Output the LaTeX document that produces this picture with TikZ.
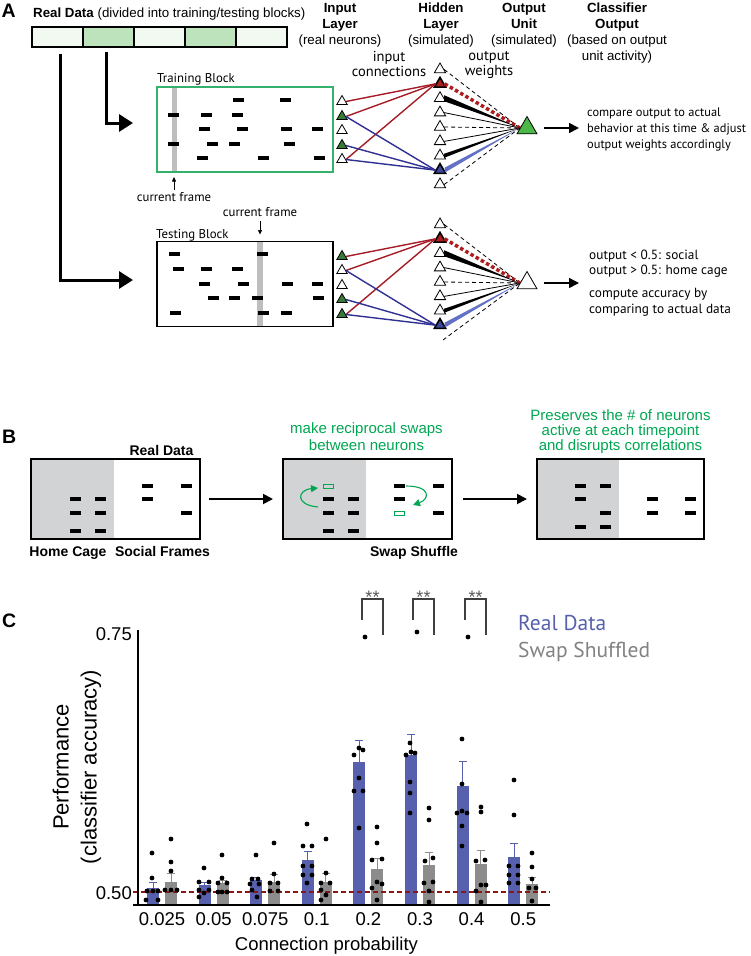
\documentclass[tikz,border=0pt]{standalone}
\usepackage{fontspec}
\setmainfont{Liberation Sans}
\newfontfamily\myr{PT Sans}
\usepackage{tikz}
\usetikzlibrary{arrows.meta}
\usetikzlibrary{positioning}
\usetikzlibrary{shapes.geometric}
\usetikzlibrary{calc}

\definecolor{trainframe}{RGB}{52,178,107}
\definecolor{cellpale}{RGB}{241,249,241}
\definecolor{cellgreen}{RGB}{189,227,189}
\definecolor{framegray}{RGB}{190,190,190}
\definecolor{ingreen}{RGB}{56,122,56}
\definecolor{outgreen}{RGB}{76,184,72}
\definecolor{conred}{RGB}{165,28,38}
\definecolor{conblue}{RGB}{48,48,148}
\definecolor{hidred}{RGB}{175,30,30}
\definecolor{hidblue}{RGB}{62,72,155}
\definecolor{weightblue}{RGB}{98,112,198}
\definecolor{swapgreen}{RGB}{0,166,81}
\definecolor{cagegray}{RGB}{209,211,212}
\definecolor{barblue}{RGB}{86,96,172}
\definecolor{bargray}{RGB}{140,140,140}
\definecolor{chancered}{RGB}{140,22,22}
\definecolor{leggray}{RGB}{130,130,130}
\definecolor{stargray}{RGB}{90,90,90}

\begin{document}
\begin{tikzpicture}[x=1pt, y=-1pt,
    hdr/.style={font=\fontsize{13.3}{16}\selectfont, align=center, inner sep=0pt},
    note/.style={font=\myr\fontsize{12.4}{16}\selectfont, align=left, inner sep=0pt},
    small/.style={font=\myr\fontsize{12.8}{14}\selectfont, inner sep=0pt},
    panel/.style={font=\bfseries\fontsize{19.5}{20}\selectfont, inner sep=0pt},
    blabel/.style={font=\bfseries\fontsize{14}{16}\selectfont, inner sep=0pt},
    greentxt/.style={font=\fontsize{15}{17.5}\selectfont, text=swapgreen, align=center, inner sep=0pt},
    tick/.style={font=\fontsize{18.5}{20}\selectfont, inner sep=0pt},
    ylab/.style={font=\fontsize{22}{28}\selectfont, align=center, inner sep=0pt},
    legend/.style={font=\myr\fontsize{21.5}{22}\selectfont, inner sep=0pt},
    stars/.style={font=\fontsize{18}{18}\selectfont, text=stargray, inner sep=0pt},
    cell/.style={draw, line width=1.3pt, minimum width=51pt, minimum height=20pt, inner sep=0pt, outer sep=0pt},
    block/.style={draw, line width=1.8pt, minimum width=176pt, minimum height=85pt, inner sep=0pt, outer sep=0pt},
    sbox/.style={draw, line width=1.8pt, minimum width=169pt, minimum height=80pt, inner sep=0pt, outer sep=0pt,
        path picture={\fill[cagegray] (path picture bounding box.north west) rectangle ([xshift=#1]path picture bounding box.south west);}},
    sbox/.default=83pt,
    neuron/.style={regular polygon, regular polygon sides=3, draw, line width=0.8pt, minimum size=12pt, inner sep=0pt, fill=white},
    hidneuron/.style={neuron, minimum size=13pt},
    redneuron/.style={hidneuron, fill=hidred, line width=1.6pt},
    blueneuron/.style={hidneuron, fill=hidblue, line width=1.6pt},
    outneuron/.style={neuron, minimum size=23pt},
    conn/.style={line width=1.4pt},
    weakw/.style={line width=0.8pt, dash pattern=on 4pt off 3pt},
    thinw/.style={line width=0.8pt},
    redw/.style={hidred, line width=3.5pt, dash pattern=on 3.5pt off 2.5pt},
    bigarrow/.style={line width=3pt, -{Triangle[length=14pt,width=17pt]}},
    midarrow/.style={line width=1.8pt, -{Triangle[length=10pt,width=10pt]}},
    tinyarrow/.style={line width=0.7pt, -{Triangle[length=4.5pt,width=4pt]}},
    swaparrow/.style={swapgreen, line width=1.1pt, -{Triangle[length=7pt,width=7pt]}},
    bracket/.style={line width=1.4pt, stargray!70!black},
]
\useasboundingbox (0,0) rectangle (750,956);
%\draw[help lines, step=50] (0,0) grid (750,956);

% ---------------- A ----------------
\node[panel, anchor=base west] (labA) at (1.5,17) {A};
\node[hdr, anchor=base west] (datatitle) at (33,17.5) {\textbf{Real Data} (divided into training/testing blocks)};

\node[cell, fill=cellpale] (c1) at (57.5,37) {};
\node[cell, fill=cellgreen, right=0pt of c1] (c2) {};
\node[cell, fill=cellpale, right=0pt of c2] (c3) {};
\node[cell, fill=cellgreen, right=0pt of c3] (c4) {};
\node[cell, fill=cellpale, right=0pt of c4] (c5) {};

\node[hdr, anchor=north] (inhdr) at (340,3) {\textbf{Input}\\\textbf{Layer}\\(real neurons)};
\node[hdr, anchor=north] (hidhdr) at (441,3) {\textbf{Hidden}\\\textbf{Layer}\\(simulated)};
\node[hdr, anchor=north] (outhdr) at (524,3) {\textbf{Output}\\\textbf{Unit}\\(simulated)};
\node[hdr, anchor=north] (clshdr) at (617,3) {\textbf{Classifier}\\\textbf{Output}\\(based on output\\unit activity)};
\node[note, font=\myr\fontsize{14.5}{15}\selectfont, align=center, anchor=north] (connlab) at (389,51) {input\\connections};
\node[note, font=\myr\fontsize{14.5}{15}\selectfont, align=center, anchor=north] (wlab) at (489,51) {output\\weights};

% training block
\fill[framegray] (172,87) rectangle (177,172);
\node[block, draw=trainframe, line width=1.5pt] (train) at (245,129.5) {};
\foreach \x/\y in {238/100, 285/100, 173/115, 206/115, 237/115, 204/129, 242/129, 286/129, 317/129,
                   173/144, 212/144, 234/144, 289/144, 202/158, 263/158, 319/158}
    \fill (\x-5.5,\y-2) rectangle ++(11,4);
\node[small, anchor=base west] (trainlab) at (157,82) {Training Block};
\node[small, anchor=base] (cftrain) at (174,201) {current frame};
\draw[tinyarrow, shorten <=2pt, shorten >=5pt] (cftrain.north) -- (cftrain.north |- train.south);

% testing block
\fill[framegray] (257,242) rectangle (263,326);
\node[block] (test) at (245,284) {};
\foreach \x/\y in {174/254, 262/254, 178/269, 206/269, 237/269, 204/284, 243/284, 287/284, 317/284,
                   213/298, 234/298, 257/298, 318/298, 175/313, 263/313, 286/313}
    \fill (\x-5.5,\y-2) rectangle ++(11,4);
\node[small, anchor=base west] (testlab) at (156,238) {Testing Block};
\node[small, anchor=base] (cftest) at (260,216.5) {current frame};
\draw[tinyarrow, shorten <=4pt, shorten >=7pt] (cftest.south) -- (cftest.south |- test.north);

% data bar to blocks
\draw[bigarrow] ([xshift=-2.5pt,yshift=-5pt]c2.south) |- ([xshift=-24pt,yshift=6.5pt]train.west);
\draw[bigarrow] ([xshift=2.5pt,yshift=-7pt]c1.south) |- ([xshift=-24pt,yshift=4pt]test.west);

% input layers
\foreach \i/\y/\c in {1/100/white, 2/115/ingreen, 3/129/white, 4/144/ingreen, 5/158/white}
    \node[neuron, fill=\c] (ti\i) at (342,\y+1.5) {};
\foreach \i/\y/\c in {1/255/ingreen, 2/269/white, 3/284/white, 4/298/ingreen, 5/313/ingreen}
    \node[neuron, fill=\c] (ei\i) at (342,\y+1.5) {};

% hidden layers and output units
\foreach \p/\dy in {t/0, e/155}
    \foreach \i/\s in {1/hidneuron, 2/redneuron, 3/hidneuron, 4/hidneuron, 5/hidneuron,
                       6/hidneuron, 7/hidneuron, 8/blueneuron}
        \node[\s] (\p h\i) at (440,69.5+14.375*\i-14.375+\dy) {};
\node[hidneuron] (th9) at (440,184.5) {};
\coordinate (eh9) at (443,340);
\node[outneuron, fill=outgreen] (tout) at (527,128) {};
\node[outneuron] (eout) at (527,283) {};

\foreach \p in {t,e} {
    \foreach \a/\b/\c in {1/2/conred, 2/2/conred, 5/2/conred, 2/8/conblue, 4/8/conblue, 5/8/conblue}
        \draw[conn, \c] (\p i\a.east) -- (\p h\b.west);
    \foreach \i in {1,5}
        \draw[weakw] (\p h\i.east) -- (\p out.west);
    \foreach \i in {4,6}
        \draw[thinw] (\p h\i.east) -- (\p out.west);
    \draw[redw] (\p h2.east) -- (\p out.west);
    \foreach \n/\w/\c in {3/3/black, 7/2/black, 8/2.5/weightblue}
        \fill[\c] ($(\p h\n.east)+(0,-\w)$) -- (\p out.west) -- ($(\p h\n.east)+(0,\w)$) -- cycle;
}
\draw[weakw] (th9.east) -- (tout.west);
\draw[weakw] (eh9) -- (eout.west);

% classifier output
\node[note, anchor=north west] (tnote) at (587,107.8) {compare output to actual\\behavior at this time \& adjust\\output weights accordingly};
\node[note, font=\myr\fontsize{13.3}{15.5}\selectfont, anchor=north west] (enote) at (589,249.7) {output < 0.5: social\\output > 0.5: home cage\\[7.5pt]compute accuracy by\\comparing to actual data};
\draw[midarrow, line width=1.6pt, shorten <=10pt, shorten >=8pt] (tout.east) -- (tout.east -| tnote.west);
\draw[midarrow, line width=1.6pt, shorten <=10pt, shorten >=10pt] (eout.east) -- (eout.east -| enote.west);

% ---------------- B ----------------
\node[panel, anchor=base west] (labB) at (2,443) {B};
\node[sbox] (realbox) at (115.5,499) {};
\node[sbox, right=83pt of realbox] (swapbox) {};
\node[sbox=82pt, minimum width=167pt, right=85pt of swapbox] (presbox) {};
\foreach \x/\y in {75/499, 100/499, 75/513, 100/513, 75/531, 100/531, 147/486, 186/486, 147/499, 186/513,
                   328/499, 353/499, 328/513, 353/513, 328/531, 353/531, 399/486, 438/486, 399/499, 438/513,
                   580/486, 605/486, 580/499, 605/513, 580/527, 605/527, 652/499, 690/499, 652/513, 690/513}
    \fill (\x-5.5,\y-2) rectangle ++(11,4);
\foreach \x/\y in {328/486, 399/513}
    \draw[swapgreen, line width=1pt] (\x-5,\y-2) rectangle ++(10,4);
\draw[swaparrow] (318,507) .. controls (295,505) and (297,490) .. (318,488);
\draw[swaparrow] (406,486) .. controls (431,486) and (430,499) .. (413,505);

\node[blabel, anchor=base] (realtitle) at (161.5,455) {Real Data};
\node[blabel, anchor=base] (homelab) at (68,556.7) {Home Cage};
\node[blabel, anchor=base] (sociallab) at (162.5,556.7) {Social Frames};
\node[blabel, anchor=base] (swaplab) at (414,556.7) {Swap Shuffle};
\node[greentxt, anchor=north] (swapnote) at (366.5,422.3) {make reciprocal swaps\\between neurons};
\node[greentxt, font=\fontsize{15}{15.3}\selectfont, anchor=north] (presnote) at (620.5,409.3) {Preserves the \# of neurons\\active at each timepoint\\and disrupts correlations};

\draw[midarrow, shorten <=9pt, shorten >=10pt] (realbox.east) -- (swapbox.west);
\draw[midarrow, shorten <=11pt, shorten >=10pt] (swapbox.east) -- (presbox.west);

% ---------------- C ----------------
\node[panel, anchor=base west] (labC) at (2,627) {C};

% bars: centre / blue top / blue error / gray top / gray error
\foreach \cx/\b/\be/\g/\ge in {162/888/882/882/873, 213.6/885/882/883/880, 265.2/880/877/882/874,
                               316.8/860/851/882/873, 368.4/762/740/869/858, 420/755/734/865/852,
                               471.6/786/761/864/850, 523.2/857/843/884/877} {
    \fill[barblue] (\cx-15,905) rectangle (\cx-3,\b);
    \draw[barblue, line width=1pt] (\cx-9,\b) -- (\cx-9,\be) (\cx-13,\be) -- (\cx-5,\be);
    \fill[bargray] (\cx+3,905) rectangle (\cx+15,\g);
    \draw[bargray, line width=1pt] (\cx+9,\g) -- (\cx+9,\ge) (\cx+5,\ge) -- (\cx+13,\ge);
}
\draw[chancered, line width=1.2pt, dash pattern=on 5pt off 3pt] (133,892) -- (550,892);
\draw[line width=1.8pt] (138,630) -- (138,905) -- (550,905);
\draw[line width=1.8pt] (133,905) -- (138,905);

% single animals
\foreach \x/\y in {152/853, 152/878, 147/891, 158/891, 153/891, 146/900, 158/900,
                   171/839, 171/862, 171/871, 165/890, 171/890, 177/890,
                   204/868, 199/882, 209/882, 199/890, 209/890, 204/893, 199/897,
                   222/855, 222/878, 218/883, 227/883, 218/892, 227/892, 222/892,
                   256/855, 252/879, 258/879, 250/884, 259/884, 252/890, 257/897,
                   274/843, 274/874, 270/883, 278/883, 270/891, 278/891,
                   307/824, 303/846, 312/846, 303/866, 312/866, 303/875, 312/875, 307/883,
                   326/839, 326/873, 321/883, 330/883, 321/890, 326/895, 321/900,
                   365/637, 354/755, 359/748, 363/750, 359/778, 354/791, 363/791, 359/828,
                   377/827, 377/843, 372/860, 382/859, 377/882, 382/884, 372/888, 377/900,
                   417/632, 410/743, 406/755, 411/752, 415/753, 410/782, 410/793, 410/813,
                   429/808, 429/820, 425/861, 433/858, 424/883, 433/882, 429/891, 429/902,
                   468/637, 462/739, 462/784, 457/813, 462/811, 467/813, 462/826, 462/846,
                   481/807, 481/812, 476/861, 485/860, 476/891, 481/885, 486/885, 481/902,
                   514/780, 514/815, 509/866, 518/866, 509/875, 518/875, 509/883, 518/883,
                   532/853, 532/867, 532/879, 529/888, 536/888, 532/901}
    \fill (\x,\y) circle (2.4pt);

% significance
\foreach \l/\r in {362/383, 413/434, 465/486} {
    \draw[bracket] (\l,620) -- (\l,599) -- (\r,599) -- (\r,635);
    \node[stars, anchor=base] at ({(\l+\r)/2},603) {**};
}

\node[tick, anchor=base east] (ytop) at (132,640) {0.75};
\node[tick, anchor=base east] (ybot) at (132,899) {0.50};
\foreach \cx/\t in {162/0.025, 213.6/0.05, 265.2/0.075, 316.8/0.1, 368.4/0.2, 420/0.3, 471.6/0.4, 523.2/0.5}
    \node[tick, anchor=base] at (\cx,925.7) {\t};
\node[tick, anchor=base] (xlab) at (326.5,950.7) {Connection probability};
\node[ylab, rotate=90] (yname) at (77,767) {Performance\\(classifier accuracy)};

\node[legend, text=barblue, anchor=base west] (legreal) at (518,630.7) {Real Data};
\node[legend, text=leggray, anchor=base west] (legswap) at (518,657.3) {Swap Shuffled};
\end{tikzpicture}
\end{document}
